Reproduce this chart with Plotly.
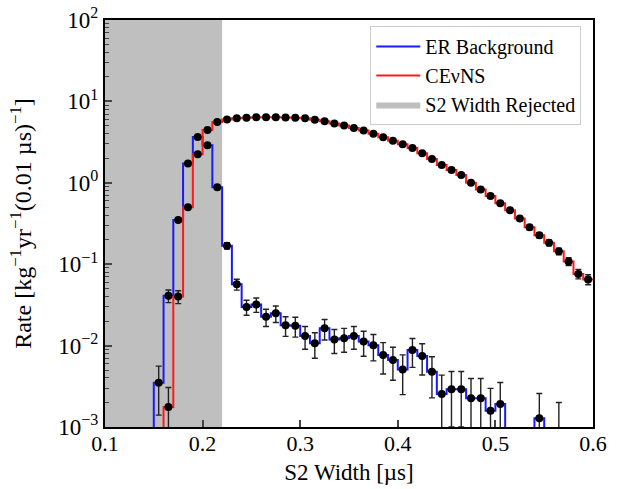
import numpy as np
import plotly.graph_objects as go

# ---------------- data ----------------
bin_width = 0.01
# ER background: bins from 0.15 to 0.60
er_edges_start = 0.15
er_rate = [0.0035, 0.041, 0.35, 1.73, 3.65, 2.89, 0.88, 0.169, 0.0566, 0.0298,
           0.032, 0.0226, 0.0249, 0.0178, 0.0175, 0.0131, 0.0107, 0.0163, 0.0119, 0.0123,
           0.0131, 0.0112, 0.0101, 0.00767, 0.00665, 0.0051, 0.0088, 0.00745, 0.00478, 0.00254,
           0.0029, 0.0029, 0.00225, 0.00225, 0.00158, 0.00192, 0.0, 0.0, 0.0, 0.00128,
           0.0, 0.0, 0.0, 0.0, 0.0]
er_data = [0.0035, 0.041, 0.35, 1.73, 3.65, 2.89, 0.88, 0.169, 0.0566, 0.0298,
           0.032, 0.0226, 0.0249, 0.0178, 0.0175, 0.0131, 0.0107, 0.0163, 0.0119, 0.0123,
           0.0131, 0.0112, 0.0101, 0.00767, 0.00665, 0.0051, 0.0088, 0.00745, 0.00478, 0.00254,
           0.0029, 0.0029, 0.00225, 0.00225, 0.00158, 0.00192, None, None, None, 0.00128,
           None, 0.0006, None, None, None]
er_err = [0.0021, 0.0073, 0.021, 0.047, 0.069, 0.061, 0.034, 0.015, 0.0086, 0.0062,
          0.0064, 0.0054, 0.0057, 0.0048, 0.0048, 0.0041, 0.0037, 0.0046, 0.0039, 0.0040,
          0.0041, 0.0038, 0.0036, 0.0032, 0.0029, 0.0026, 0.0034, 0.0031, 0.0025, 0.0018,
          0.0019, 0.0019, 0.0017, 0.0017, 0.0014, 0.0016, 0, 0, 0, 0.0013,
          0, 0.0014, 0, 0, 0]

# CEvNS: bins from 0.16 to 0.60
cevns_edges_start = 0.16
cevns_rate = [0.00176, 0.040, 0.50, 2.24, 4.45, 5.58, 6.0, 6.2, 6.3, 6.38,
              6.4, 6.4, 6.35, 6.28, 6.2, 5.97, 5.7, 5.37, 5.06, 4.72,
              4.38, 4.0, 3.62, 3.28, 2.98, 2.68, 2.30, 1.96, 1.65, 1.44,
              1.25, 1.0, 0.83, 0.69, 0.56, 0.46, 0.364, 0.284, 0.227, 0.183,
              0.144, 0.108, 0.076, 0.065]
cevns_err = [0.0013, 0.0072, 0.025, 0.054, 0.076, 0.085, 0.088, 0.09, 0.09, 0.091,
             0.091, 0.091, 0.091, 0.09, 0.09, 0.088, 0.086, 0.084, 0.081, 0.078,
             0.075, 0.072, 0.069, 0.065, 0.062, 0.059, 0.055, 0.05, 0.046, 0.043,
             0.04, 0.036, 0.033, 0.03, 0.027, 0.024, 0.022, 0.019, 0.017, 0.015,
             0.0137, 0.0118, 0.0099, 0.0092]

cut_lo, cut_hi = 0.1, 0.22
x_range = [0.1, 0.6]
y_range_exp = [-3, 2]
x_ticks = [0.1, 0.2, 0.3, 0.4, 0.5, 0.6]
y_tick_exps = [-3, -2, -1, 0, 1, 2]

FLOOR = 1e-9  # stands in for empty bins (below the axis)

def step_xy(start, rates, close_right=True):
    n = len(rates)
    edges = [round(start + i * bin_width, 4) for i in range(n + 1)]
    vals = [r if r > 0 else FLOOR for r in rates]
    xs = [edges[0]] + edges[:-1] + [edges[-1]]
    ys = [FLOOR] + vals + [vals[-1]]
    if close_right:
        xs.append(edges[-1])
        ys.append(FLOOR)
    return xs, ys

def centers(start, n):
    return [round(start + (i + 0.5) * bin_width, 4) for i in range(n)]

FONT = "Liberation Serif"
BLUE = "rgb(25,25,255)"
RED = "rgb(255,25,25)"

fig = go.Figure()

# Rejected region
fig.add_trace(go.Scatter(
    x=[cut_lo, cut_hi, cut_hi, cut_lo, cut_lo],
    y=[10 ** y_range_exp[0], 10 ** y_range_exp[0], 10 ** y_range_exp[1], 10 ** y_range_exp[1], 10 ** y_range_exp[0]],
    fill="toself", fillcolor="#bfbfbf", mode="lines", line=dict(width=0, color="#bfbfbf"),
    name="S2 Width Rejected", legendrank=3, hoverinfo="skip"))

ex, ey = step_xy(er_edges_start, er_rate)
fig.add_trace(go.Scatter(x=ex, y=ey, mode="lines", line=dict(color=BLUE, width=2, shape="hv"),
                         name="ER Background", legendrank=1))
cx, cy = step_xy(cevns_edges_start, cevns_rate, close_right=False)
fig.add_trace(go.Scatter(x=cx, y=cy, mode="lines", line=dict(color=RED, width=2, shape="hv"),
                         name="CE\u03bdNS", legendrank=2))

# data points
erc = centers(er_edges_start, len(er_data))
ex_pts = [c for c, d in zip(erc, er_data) if d is not None]
ey_pts = [d for d in er_data if d is not None]
ee_pts = [e for d, e in zip(er_data, er_err) if d is not None]
fig.add_trace(go.Scatter(x=ex_pts, y=ey_pts, mode="markers",
                         marker=dict(color="black", size=8),
                         error_y=dict(type="data", array=ee_pts, color="#222", thickness=1.4, width=3),
                         showlegend=False))
cc = centers(cevns_edges_start, len(cevns_rate))
fig.add_trace(go.Scatter(x=cc, y=cevns_rate, mode="markers",
                         marker=dict(color="black", size=8),
                         error_y=dict(type="data", array=cevns_err, color="#222", thickness=1.4, width=3),
                         showlegend=False))

def sup(e):
    s = str(e).replace("-", "\u2212")
    return f"10<sup>{s}</sup>"

minor_vals = [m * 10 ** e for e in range(y_range_exp[0], y_range_exp[1]) for m in range(2, 10)]

fig.update_layout(
    width=618, height=489,
    margin=dict(l=105, r=25, t=20, b=62, autoexpand=False),
    paper_bgcolor="white", plot_bgcolor="white",
    font=dict(family=FONT, size=22, color="black"),
    showlegend=True,
    legend=dict(x=0.976, y=0.985, xanchor="right", yanchor="top",
                bgcolor="white", bordercolor="#cccccc", borderwidth=1,
                font=dict(family=FONT, size=20), itemwidth=44,
                tracegroupgap=0),
    xaxis=dict(range=x_range, tickvals=x_ticks, ticktext=[f"{v:.1f}" for v in x_ticks],
               ticks="inside", ticklen=7, tickwidth=1.5, showline=True, linewidth=2,
               linecolor="black", mirror=True, showgrid=False, zeroline=False, automargin=False,
               ticklabelstandoff=-4,
               title=dict(text="S2 Width [\u00b5s]", standoff=8, font=dict(size=23)),
               tickfont=dict(size=22)),
    yaxis=dict(type="log", range=y_range_exp, tickvals=[10 ** e for e in y_tick_exps],
               ticktext=[sup(e) for e in y_tick_exps],
               ticks="inside", ticklen=7, tickwidth=1.5, showline=True, linewidth=2,
               linecolor="black", mirror=True, showgrid=False, zeroline=False, automargin=False,
               minor=dict(tickvals=minor_vals, ticks="inside", ticklen=4, tickwidth=1, showgrid=False),
               title=dict(text="Rate [kg<sup>\u22121</sup>yr<sup>\u22121</sup>(0.01 \u00b5s)<sup>\u22121</sup>]",
                          standoff=20, font=dict(size=24)),
               tickfont=dict(size=23)),
)

fig.write_html("out.html")
